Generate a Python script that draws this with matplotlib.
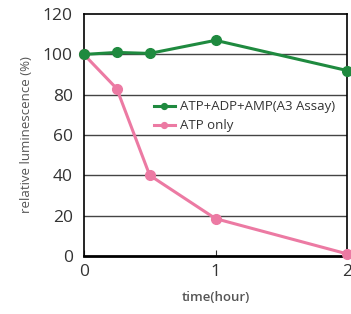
import matplotlib
matplotlib.use("Agg")
import matplotlib.pyplot as plt

plt.rcParams['font.family'] = ['Open Sans', 'DejaVu Sans']

# data
time_h = [0, 0.25, 0.5, 1, 2]
a3_assay = [100, 101, 100.5, 107, 92]
atp_only = [100, 83, 40, 18.5, 1]
y_ticks = [0, 20, 40, 60, 80, 100, 120]
x_ticks = [0, 1, 2]

green = '#1f8a3f'
pink = '#ec7aa3'

fig = plt.figure(figsize=(3.51, 3.14), dpi=100)
ax = fig.add_axes([0.239, 0.185, 0.750, 0.770])

ax.plot(time_h, a3_assay, color=green, lw=2.2, marker='o', ms=7, label='ATP+ADP+AMP(A3 Assay)', zorder=4, clip_on=False)
ax.plot(time_h, atp_only, color=pink, lw=2.2, marker='o', ms=7, label='ATP only', zorder=3, clip_on=False)

ax.set_xlim(0, 2)
ax.set_ylim(0, 120)
ax.set_xticks(x_ticks)
ax.set_yticks(y_ticks)
ax.set_xticklabels([str(t) for t in x_ticks])

for y in y_ticks[1:-1]:
    ax.axhline(y, color='#444444', lw=1.0, zorder=1)

for s in ['top', 'right', 'left']:
    ax.spines[s].set_linewidth(1.2)
ax.spines['bottom'].set_linewidth(2.0)

ax.tick_params(axis='y', length=0, labelsize=12.5, colors='#333333', pad=8)
ax.tick_params(axis='x', direction='in', length=4, labelsize=12.5, colors='#333333', pad=6)

ax.set_ylabel('relative luminescence (%)', fontsize=9.5, color='#555555', labelpad=7)
ax.set_xlabel('time(hour)', fontsize=9.5, color='#555555', fontweight='semibold', labelpad=8)

leg = ax.legend(loc='upper left', bbox_to_anchor=(0.245, 0.665), frameon=False, fontsize=9.5,
                handlelength=1.6, handletextpad=0.4, labelspacing=0.45, borderaxespad=0,
                labelcolor='#333333', markerscale=0.6)

fig.savefig('out.png', dpi=100)
